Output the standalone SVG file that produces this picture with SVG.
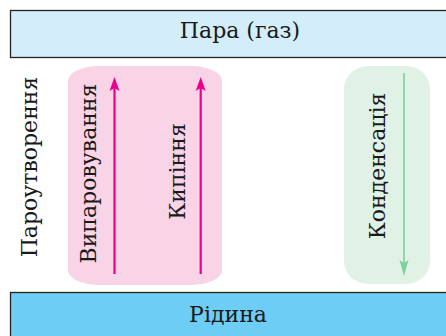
<svg xmlns="http://www.w3.org/2000/svg" width="446" height="336" viewBox="0 0 446 336">
<style>
.t{font-family:"DejaVu Serif","Liberation Serif",serif;font-size:22px;fill:#1a1a1a;text-anchor:middle}
.box{stroke:#222;stroke-width:1.3}
</style>
<defs>
<marker id="hp" markerUnits="userSpaceOnUse" markerWidth="16" markerHeight="12" refX="3" refY="0" viewBox="0 -6 16 12" orient="auto" overflow="visible">
<path d="M0,-5 L14,0 L0,5 L3,0 Z" fill="#ec008c"/>
</marker>
<marker id="hg" markerUnits="userSpaceOnUse" markerWidth="18" markerHeight="12" refX="3" refY="0" viewBox="0 -6 18 12" orient="auto" overflow="visible">
<path d="M0,-4.5 L16,0 L0,4.5 L3,0 Z" fill="#80cf9c"/>
</marker>
</defs>
<rect width="446" height="336" fill="#fff"/>
<g id="vapour">
<rect class="box" x="10.5" y="10.5" width="445" height="47" fill="#d3eefa"/>
<text class="t" x="240" y="38">Пара (газ)</text>
</g>
<g id="liquid">
<rect class="box" x="10.5" y="292.5" width="445" height="60" fill="#6dcdf4"/>
<text class="t" x="228" y="321.5">Рідина</text>
</g>
<g id="vaporization-label">
<text class="t" transform="translate(37,167) rotate(-90)">Пароутворення</text>
</g>
<g id="vaporization">
<rect x="68" y="66" width="154" height="219" rx="30" ry="15" fill="#f9d3e6"/>
<text class="t" transform="translate(96,173.5) rotate(-90)">Випаровування</text>
<text class="t" transform="translate(185,171.5) rotate(-90)">Кипіння</text>
</g>
<g id="condensation">
<rect x="344" y="66" width="86" height="218" rx="24" ry="23" fill="#e0f2e6"/>
<text class="t" transform="translate(385,166) rotate(-90)">Конденсація</text>
</g>
<g id="connectors" fill="none">
<line x1="114.5" y1="274" x2="114.5" y2="88" stroke="#ec008c" stroke-width="2.2" marker-end="url(#hp)"/>
<line x1="200.7" y1="274" x2="200.7" y2="88" stroke="#ec008c" stroke-width="2.2" marker-end="url(#hp)"/>
<line x1="404" y1="73" x2="404" y2="263" stroke="#80cf9c" stroke-width="1.6" marker-end="url(#hg)"/>
</g>
</svg>
